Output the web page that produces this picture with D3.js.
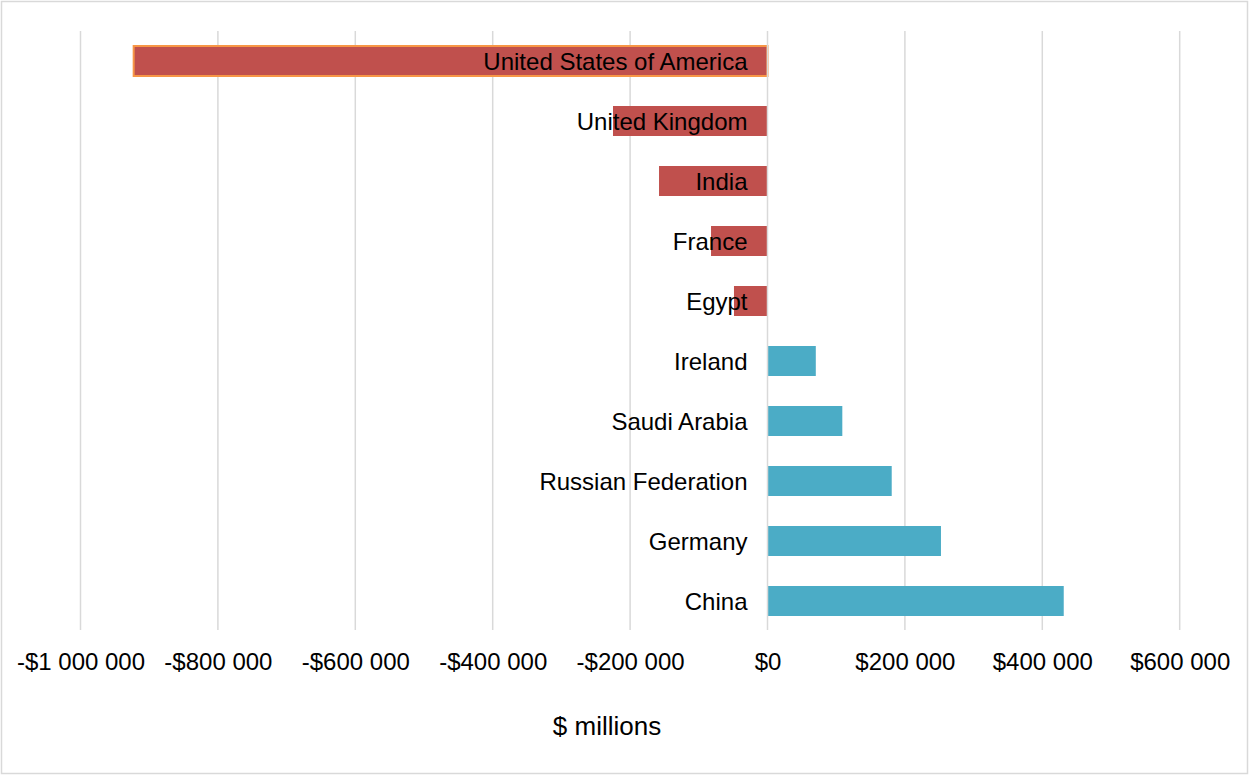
<!DOCTYPE html>
<html>
<head>
<meta charset="utf-8">
<script src="https://cdn.jsdelivr.net/npm/d3@7"></script>
<style>
  html, body { margin: 0; padding: 0; background: #fff; }
  svg { display: block; font-family: Arial, "Liberation Sans", sans-serif; }
</style>
</head>
<body>
<svg id="chart" width="1250" height="776"></svg>
<script>
// Net balance by country, $ millions
const countries = [
  "United States of America", "United Kingdom", "India", "France", "Egypt",
  "Ireland", "Saudi Arabia", "Russian Federation", "Germany", "China"
];
const balances = [
  -922600, -224900, -157900, -82200, -48800,
  70300, 108900, 180800, 252500, 431200
];
const tickValues = [-1000000, -800000, -600000, -400000, -200000, 0, 200000, 400000, 600000];
const axisTitle = "$ millions";

const rows = countries.map((c, i) => ({ country: c, value: balances[i] }));

const svg = d3.select("#chart");
const W = 1250, H = 776;

// outer chart frame
svg.append("rect")
  .attr("x", 1.5).attr("y", 1.5)
  .attr("width", W - 4).attr("height", H - 4)
  .attr("fill", "#fff")
  .attr("stroke", "#d9d9d9")
  .attr("stroke-width", 1.5);

const plotTop = 31, plotBottom = 631;

const x = d3.scaleLinear()
  .domain([-1000000, 600000])
  .range([80.5, 1179.7]);

const y = d3.scaleBand()
  .domain(countries)
  .range([plotTop, plotBottom])
  .paddingInner(0.5)
  .paddingOuter(0.25);

const locale = d3.formatLocale({
  decimal: ".", thousands: "\u00a0", grouping: [3], currency: ["$", ""], minus: "-"
});
const fmt = locale.format("$,.0f");

function gridlines(values) {
  return svg.append("g")
    .selectAll("line")
    .data(values)
    .join("line")
    .attr("x1", d => x(d)).attr("x2", d => x(d))
    .attr("y1", plotTop).attr("y2", plotBottom - 1)
    .attr("stroke", "#d9d9d9")
    .attr("stroke-width", 1.5);
}

// vertical gridlines (zero line is drawn above the bars)
gridlines(tickValues.filter(d => d !== 0));

// bars
svg.append("g")
  .selectAll("rect")
  .data(rows)
  .join("rect")
  .attr("x", d => x(Math.min(0, d.value)))
  .attr("y", d => y(d.country))
  .attr("width", d => Math.abs(x(d.value) - x(0)))
  .attr("height", y.bandwidth())
  .attr("fill", d => d.value < 0 ? "#c0504d" : "#4bacc6")
  .attr("stroke", (d, i) => i === 0 ? "#f79646" : "none")
  .attr("stroke-width", 2);

gridlines([0]);

// x axis tick labels
const xAxis = svg.append("g")
  .attr("transform", `translate(0, ${plotBottom})`)
  .call(d3.axisBottom(x).tickValues(tickValues).tickFormat(fmt).tickSize(0).tickPadding(0));
xAxis.select(".domain").remove();
xAxis.selectAll("text")
  .attr("y", 38.5).attr("dy", null)
  .attr("font-size", 24)
  .attr("font-family", "Arial, 'Liberation Sans', sans-serif")
  .attr("fill", "#000");

// category labels next to the zero line
const yAxis = svg.append("g")
  .attr("transform", `translate(${x(0)}, 0)`)
  .call(d3.axisLeft(y).tickSize(0).tickPadding(20));
yAxis.select(".domain").remove();
yAxis.selectAll("text")
  .attr("dy", null)
  .attr("y", 9)
  .attr("font-size", 24)
  .attr("font-family", "Arial, 'Liberation Sans', sans-serif")
  .attr("fill", "#000");

// axis title
svg.append("text")
  .attr("x", 607).attr("y", 735)
  .attr("text-anchor", "middle")
  .attr("font-size", 26)
  .attr("fill", "#000")
  .text(axisTitle);
</script>
</body>
</html>
